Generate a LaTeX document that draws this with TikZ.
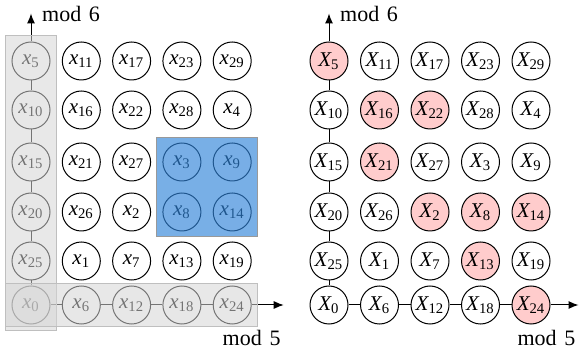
\documentclass[tikz,border=0pt]{standalone}
\usepackage{amsmath}
\usepackage{fontspec}
\setmainfont{Liberation Serif}
\usetikzlibrary{positioning,fit,arrows.meta}
\newcommand{\xv}[1]{$\textit{x}_{\text{#1}}$}
\newcommand{\Xv}[1]{$\textit{X}_{\text{#1}}$}
\definecolor{shadegray}{RGB}{213,213,213}
\definecolor{cellblue}{RGB}{48,132,217}

\tikzset{
  var/.style={circle, draw, fill=white, minimum size=19pt, inner sep=0pt,
    line width=0.5pt, font=\fontsize{10.5}{12}\selectfont},
  hit/.style={fill=red!20},
  h5/.style=hit, h16/.style=hit, h22/.style=hit, h21/.style=hit,
  h2/.style=hit, h8/.style=hit, h14/.style=hit, h13/.style=hit, h24/.style=hit,
  modlabel/.style={font=\fontsize{11}{13}\selectfont},
  shadebox/.style={draw=black!25, fill=shadegray, fill opacity=0.55,
    inner xsep=3pt, inner ysep=1pt},
  blubox/.style={draw=black!40, fill=cellblue, fill opacity=0.65,
    inner xsep=3pt, inner ysep=2.5pt}
}

\begin{document}
\begin{tikzpicture}[x=0.5pt, y=-0.5pt, >={Latex[length=5pt,width=4pt]}, line width=0.5pt]
            \useasboundingbox (0,0) rectangle (581,356);

            % Define nodes
            \foreach \n in {0,...,29} {
              \pgfmathtruncatemacro\cx{mod(\n,5)}
              \pgfmathtruncatemacro\cy{mod(\n,6)}
              \pgfmathsetmacro\yy{{305,261,212,162,110,61}[\cy]}
              \node[var] (l\n) at (31+50.3*\cx, \yy) {\xv{\n}};
              \node[var, h\n/.try] (r\n) at (329+50.5*\cx, \yy) {\Xv{\n}};
            }

            \coordinate[above=14pt of l5] (ltip);
            \coordinate[right=16pt of l24] (lend);
            \coordinate[above=14pt of r5] (rtip);
            \coordinate[right=14pt of r24] (rend);

            \node[modlabel, right=2pt of ltip] (lmod6) {mod\hspace{0.35em}6};
            \node[modlabel, below left=9pt and -2pt of lend] (lmod5) {mod\hspace{0.35em}5};
            \node[modlabel, right=2pt of rtip] (rmod6) {mod\hspace{0.35em}6};
            \node[modlabel, below left=9pt and -2pt of rend] (rmod5) {mod\hspace{0.35em}5};

            % Connect the nodes
            \draw (l0) -- (l25) -- (l20) -- (l15) -- (l10) -- (l5);
            \draw (l0) -- (l6) -- (l12) -- (l18) -- (l24);
            \draw[->] (l5) -- (ltip);
            \draw[->] (l24) -- (lend);

            \draw (r0) -- (r25) -- (r20) -- (r15) -- (r10) -- (r5);
            \draw (r0) -- (r6) -- (r12) -- (r18) -- (r24);
            \draw[->] (r5) -- (rtip);
            \draw[->] (r24) -- (rend);

            % Boxes
            \node[shadebox, fit=(l5)(l0), inner ysep=3pt] (colbox) {};
            \node[shadebox, fit=(l0)(l24)] (rowbox) {};
            \node[blubox, fit=(l3)(l14)] (cellbox) {};
\end{tikzpicture}
\end{document}
